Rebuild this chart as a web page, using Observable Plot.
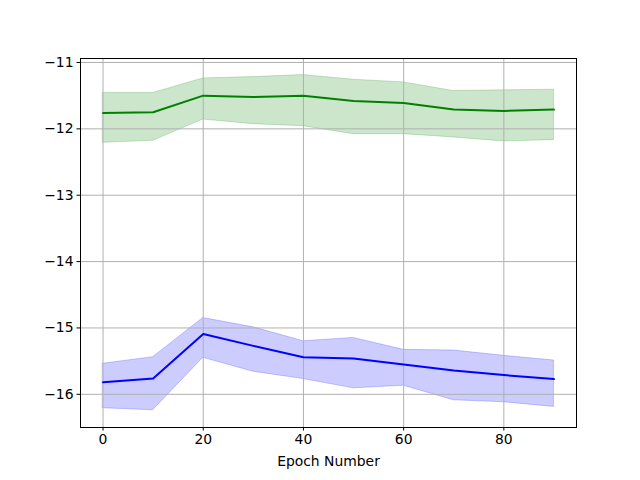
<!DOCTYPE html>
<html>
<head>
<meta charset="utf-8">
<script src="https://cdn.jsdelivr.net/npm/d3@7"></script>
<script src="https://cdn.jsdelivr.net/npm/@observablehq/plot@0.6"></script>
<style>
  html, body { margin: 0; padding: 0; background: #fff; }
  svg { display: block; }
</style>
</head>
<body>
<div id="chart"></div>
<script>
const epochs = [0, 10, 20, 30, 40, 50, 60, 70, 80, 90];

const greenMean  = [-11.76, -11.75, -11.50, -11.52, -11.50, -11.58, -11.61, -11.71, -11.73, -11.71];
const greenUpper = [-11.46, -11.46, -11.24, -11.22, -11.19, -11.26, -11.30, -11.43, -11.42, -11.41];
const greenLower = [-12.21, -12.18, -11.86, -11.93, -11.96, -12.08, -12.08, -12.13, -12.19, -12.17];

const blueMean  = [-15.82, -15.76, -15.09, -15.27, -15.44, -15.46, -15.55, -15.64, -15.71, -15.77];
const blueUpper = [-15.54, -15.44, -14.85, -14.99, -15.20, -15.15, -15.33, -15.34, -15.42, -15.49];
const blueLower = [-16.21, -16.24, -15.45, -15.66, -15.77, -15.91, -15.87, -16.09, -16.12, -16.19];

const xTicks = [0, 20, 40, 60, 80];
const yTicks = [-11, -12, -13, -14, -15, -16];

const green = epochs.map((e, i) => ({epoch: e, mean: greenMean[i], lo: greenLower[i], hi: greenUpper[i]}));
const blue  = epochs.map((e, i) => ({epoch: e, mean: blueMean[i], lo: blueLower[i], hi: blueUpper[i]}));

const fmt = d => String(d).replace("-", "\u2212");

const chart = Plot.plot({
  width: 640,
  height: 480,
  marginLeft: 80,
  marginRight: 64,
  marginTop: 58,
  marginBottom: 53,
  style: {fontFamily: "DejaVu Sans", fontSize: "13.9px", color: "#000", background: "#fff"},
  x: {domain: [-4.5, 94.5]},
  y: {domain: [-16.5, -10.94]},
  marks: [
    Plot.areaY(green, {x: "epoch", y1: "lo", y2: "hi", fill: "green", fillOpacity: 0.2, stroke: "green", strokeOpacity: 0.2, strokeWidth: 1}),
    Plot.areaY(blue, {x: "epoch", y1: "lo", y2: "hi", fill: "blue", fillOpacity: 0.2, stroke: "blue", strokeOpacity: 0.2, strokeWidth: 1}),
    Plot.gridX(xTicks, {stroke: "#b0b0b0", strokeOpacity: 1, strokeWidth: 1}),
    Plot.gridY(yTicks, {stroke: "#b0b0b0", strokeOpacity: 1, strokeWidth: 1}),
    Plot.lineY(green, {x: "epoch", y: "mean", stroke: "green", strokeWidth: 2}),
    Plot.lineY(blue, {x: "epoch", y: "mean", stroke: "blue", strokeWidth: 2}),
    Plot.axisX({ticks: xTicks, tickFormat: fmt, tickSize: 3.5, tickPadding: 3.5, label: "Epoch Number", labelAnchor: "center", labelArrow: "none", labelOffset: 38, fontSize: 13.9}),
    Plot.axisY({ticks: yTicks, tickFormat: fmt, tickSize: 3.5, tickPadding: 3.5, label: null, fontSize: 13.9}),
    Plot.frame({stroke: "#000", strokeWidth: 1})
  ]
});
document.getElementById("chart").appendChild(chart);
</script>
</body>
</html>
